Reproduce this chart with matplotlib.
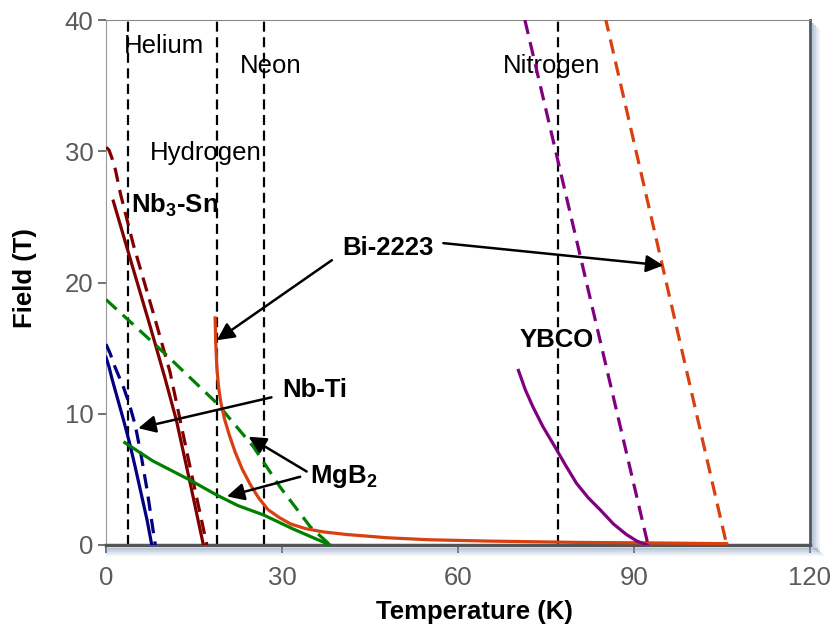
import numpy as np
import matplotlib
matplotlib.use("Agg")
import matplotlib.pyplot as plt
from matplotlib.patches import Rectangle

plt.rcParams["font.family"] = ["Liberation Sans", "DejaVu Sans"]
plt.rcParams["mathtext.fontset"] = "custom"
plt.rcParams["mathtext.rm"] = "Liberation Sans"
plt.rcParams["mathtext.bf"] = "Liberation Sans:bold"

# cryogen boiling points (K)
cryo_names = ["Helium", "Hydrogen", "Neon", "Nitrogen"]
cryo_temps = [3.8, 19.0, 27.0, 77.0]
cryo_label_x = [9.9, 17.0, 28.0, 76.0]
cryo_label_y = [38.0, 29.9, 36.5, 36.5]

# Nb-Ti
nbti_T = [0, 0.5, 1, 2, 3, 4, 5, 6, 7, 7.8]
nbti_B = [14.3, 13.6, 12.7, 11.1, 9.5, 7.8, 5.9, 3.9, 1.9, 0]
nbti_dash_T = [0, 0.7, 1.5, 3, 4, 5, 6, 7, 8, 8.4]
nbti_dash_B = [15.3, 14.6, 13.6, 12.0, 10.7, 9.1, 6.8, 4.2, 1.2, 0]

# Nb3Sn
nb3sn_T = [1.25, 4, 7.5, 10, 12, 14.5, 16.6]
nb3sn_B = [26.2, 22.0, 16.7, 12.8, 9.5, 4.4, 0]
nb3sn_dash_T = [0, 0.5, 1.0, 1.6, 2.5, 4.65, 8.3, 10.9, 14.3, 17.2]
nb3sn_dash_B = [30.3, 30.1, 29.5, 28.6, 26.7, 22.9, 17.3, 13.2, 6.0, 0]

# MgB2
mgb2_T = [3.2, 8, 14.3, 18.9, 22.5, 26.8, 32, 38.2]
mgb2_B = [7.8, 6.4, 4.95, 3.8, 3.0, 2.3, 1.2, 0]
mgb2_dash_T = [0, 10, 18.9, 25.1, 29.7, 34.8, 38.2]
mgb2_dash_B = [18.7, 14.6, 10.8, 7.5, 4.4, 1.4, 0]

# Bi-2223
bi_T = [18.6, 18.7, 18.9, 19.2, 19.6, 20.2, 21.0, 22.0, 23.2, 24.6, 26.0, 27.6,
        29.5, 31.5, 34, 37, 41, 48, 55, 65, 80, 95, 105.8]
bi_B = [17.3, 15.5, 13.5, 12.0, 10.8, 9.6, 8.4, 7.1, 5.8, 4.6, 3.6, 2.7,
        2.1, 1.6, 1.25, 1.0, 0.8, 0.55, 0.4, 0.3, 0.2, 0.15, 0.1]
bi_dash_T = [85.1, 105.8]
bi_dash_B = [40.2, 0]

# YBCO
ybco_T = [70.3, 71.5, 72.8, 74.5, 76.5, 78.3, 80.2, 82.2, 84.2, 86.5, 88.7, 90.5, 92.2]
ybco_B = [13.3, 11.8, 10.5, 9.0, 7.5, 6.1, 4.7, 3.6, 2.7, 1.6, 0.8, 0.3, 0]
ybco_dash_T = [71.4, 92.4]
ybco_dash_B = [40, 0]

navy = "#000080"
dred = "#800000"
green = "#008000"
orange = "#d94010"
purple = "#800080"


def main():
    fig = plt.figure(figsize=(8.36, 6.25), dpi=100)
    ax = fig.add_axes([106 / 836, 1 - 545 / 625, 704 / 836, 525 / 625])

    lw = 2.3
    dash = (4.5, 2.6)
    for t in cryo_temps:
        ax.plot([t, t], [0, 40], color="black", lw=1.6, dashes=(4.5, 2.5), zorder=2)
    for name, x, y in zip(cryo_names, cryo_label_x, cryo_label_y):
        ax.text(x, y, name, fontsize=18.5, ha="center", va="center", zorder=1)

    curves = [
        (nbti_T, nbti_B, navy, None), (nbti_dash_T, nbti_dash_B, navy, dash),
        (nb3sn_T, nb3sn_B, dred, None), (nb3sn_dash_T, nb3sn_dash_B, dred, dash),
        (mgb2_T, mgb2_B, green, None), (mgb2_dash_T, mgb2_dash_B, green, dash),
        (bi_T, bi_B, orange, None), (bi_dash_T, bi_dash_B, orange, dash),
        (ybco_T, ybco_B, purple, None), (ybco_dash_T, ybco_dash_B, purple, dash),
    ]
    for T, B, c, d in curves:
        if d is None:
            ax.plot(T, B, color=c, lw=lw, zorder=3, solid_joinstyle="round")
        else:
            ax.plot(T, B, color=c, lw=lw, dashes=d, zorder=3)

    bold = dict(fontsize=18.5, fontweight="bold", zorder=5)
    arrow = dict(arrowstyle="-|>", color="black", lw=1.8, mutation_scale=26,
                 shrinkA=0, shrinkB=0)
    ax.text(4.3, 25.9, r"Nb$_{\mathbf{3}}$-Sn", ha="left", va="center", **bold)
    ax.text(48.1, 22.6, "Bi-2223", ha="center", va="center", **bold)
    ax.annotate("", xy=(18.9, 15.6), xytext=(38.5, 21.7), arrowprops=arrow)
    ax.annotate("", xy=(95.0, 21.3), xytext=(57.5, 23.0), arrowprops=arrow)
    ax.text(30.1, 11.8, "Nb-Ti", ha="left", va="center", **bold)
    ax.annotate("", xy=(5.5, 8.9), xytext=(28.2, 11.25), arrowprops=arrow)
    ax.text(34.8, 5.2, r"MgB$_{\mathbf{2}}$", ha="left", va="center", **bold)
    ax.annotate("", xy=(24.3, 8.25), xytext=(34.2, 5.6), arrowprops=arrow)
    ax.annotate("", xy=(20.6, 3.7), xytext=(33.1, 5.2), arrowprops=arrow)
    ax.text(76.8, 15.6, "YBCO", ha="center", va="center", **bold)

    ax.set_xlim(0, 120)
    ax.set_ylim(0, 40)
    ax.set_xticks([0, 30, 60, 90, 120])
    ax.set_yticks([0, 10, 20, 30, 40])
    ax.tick_params(axis="both", labelsize=18.5, labelcolor="#5a5a5a", color="#666666",
                   length=6, width=1.3)
    ax.tick_params(axis="x", pad=9)
    ax.tick_params(axis="y", pad=3)

    ax.spines["left"].set_color("#999999")
    ax.spines["top"].set_color("#888888")
    ax.spines["right"].set_color("#555555")
    ax.spines["right"].set_linewidth(2.0)
    ax.spines["bottom"].set_color("#555555")
    ax.spines["bottom"].set_linewidth(2.5)

    # drop shadow along bottom and right edges
    for i, a in enumerate([0.55, 0.4, 0.25, 0.12]):
        fig.patches.append(Rectangle((106 / 836, 1 - (548 + 2 * i + 2) / 625),
                                     (712 + 2 * i) / 836, 2 / 625, transform=fig.transFigure,
                                     color="#7f9bbd", alpha=a, lw=0, zorder=0))
        fig.patches.append(Rectangle(((812 + 2 * i) / 836, 1 - (548 + 2 * i) / 625),
                                     2 / 836, 525 / 625, transform=fig.transFigure,
                                     color="#7f9bbd", alpha=a, lw=0, zorder=0))

    ax.set_xlabel("Temperature (K)", fontsize=18.5, fontweight="bold")
    ax.set_ylabel("Field (T)", fontsize=18.5, fontweight="bold")
    ax.xaxis.set_label_coords(0.524, -0.104)
    ax.yaxis.set_label_coords(-0.098, 0.509)

    fig.savefig("out.png", dpi=100)


if __name__ == "__main__":
    main()
